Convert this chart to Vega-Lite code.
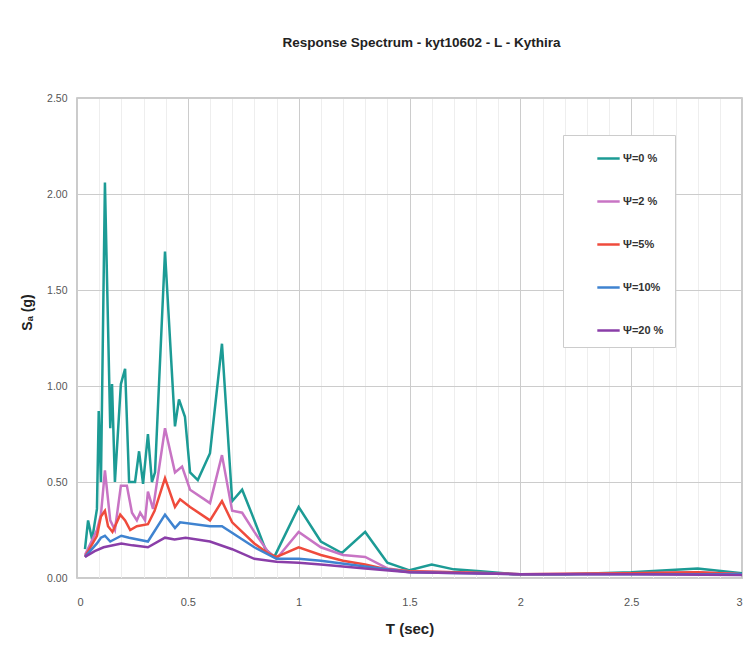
{
  "$schema": "https://vega.github.io/schema/vega-lite/v6.json",
  "width": 665,
  "height": 480,
  "autosize": "none",
  "padding": {"left": 77, "top": 98, "right": 3, "bottom": 75},
  "background": "white",
  "title": {
    "text": "Response Spectrum - kyt10602 - L -  Kythira",
    "font": "Liberation Sans",
    "fontSize": 13.5,
    "fontWeight": "bold",
    "color": "#222222",
    "anchor": "middle",
    "dx": 12,
    "offset": 44
  },
  "config": {
    "view": {"stroke": "#bbbbbb", "strokeWidth": 1.5},
    "font": "Liberation Sans"
  },
  "data": {
    "values": [
      {"T": 0.036, "Sa": 0.15, "s": "Ψ=0 %"},
      {"T": 0.05, "Sa": 0.30, "s": "Ψ=0 %"},
      {"T": 0.068, "Sa": 0.20, "s": "Ψ=0 %"},
      {"T": 0.09, "Sa": 0.36, "s": "Ψ=0 %"},
      {"T": 0.098, "Sa": 0.87, "s": "Ψ=0 %"},
      {"T": 0.108, "Sa": 0.50, "s": "Ψ=0 %"},
      {"T": 0.126, "Sa": 2.06, "s": "Ψ=0 %"},
      {"T": 0.150, "Sa": 0.78, "s": "Ψ=0 %"},
      {"T": 0.158, "Sa": 1.01, "s": "Ψ=0 %"},
      {"T": 0.171, "Sa": 0.50, "s": "Ψ=0 %"},
      {"T": 0.198, "Sa": 1.01, "s": "Ψ=0 %"},
      {"T": 0.217, "Sa": 1.09, "s": "Ψ=0 %"},
      {"T": 0.235, "Sa": 0.50, "s": "Ψ=0 %"},
      {"T": 0.262, "Sa": 0.50, "s": "Ψ=0 %"},
      {"T": 0.280, "Sa": 0.66, "s": "Ψ=0 %"},
      {"T": 0.298, "Sa": 0.49, "s": "Ψ=0 %"},
      {"T": 0.320, "Sa": 0.75, "s": "Ψ=0 %"},
      {"T": 0.338, "Sa": 0.50, "s": "Ψ=0 %"},
      {"T": 0.352, "Sa": 0.55, "s": "Ψ=0 %"},
      {"T": 0.397, "Sa": 1.70, "s": "Ψ=0 %"},
      {"T": 0.442, "Sa": 0.79, "s": "Ψ=0 %"},
      {"T": 0.460, "Sa": 0.93, "s": "Ψ=0 %"},
      {"T": 0.487, "Sa": 0.84, "s": "Ψ=0 %"},
      {"T": 0.510, "Sa": 0.55, "s": "Ψ=0 %"},
      {"T": 0.545, "Sa": 0.51, "s": "Ψ=0 %"},
      {"T": 0.600, "Sa": 0.65, "s": "Ψ=0 %"},
      {"T": 0.654, "Sa": 1.22, "s": "Ψ=0 %"},
      {"T": 0.700, "Sa": 0.40, "s": "Ψ=0 %"},
      {"T": 0.745, "Sa": 0.46, "s": "Ψ=0 %"},
      {"T": 0.790, "Sa": 0.33, "s": "Ψ=0 %"},
      {"T": 0.850, "Sa": 0.15, "s": "Ψ=0 %"},
      {"T": 0.890, "Sa": 0.11, "s": "Ψ=0 %"},
      {"T": 1.0, "Sa": 0.37, "s": "Ψ=0 %"},
      {"T": 1.10, "Sa": 0.19, "s": "Ψ=0 %"},
      {"T": 1.195, "Sa": 0.13, "s": "Ψ=0 %"},
      {"T": 1.30, "Sa": 0.24, "s": "Ψ=0 %"},
      {"T": 1.40, "Sa": 0.08, "s": "Ψ=0 %"},
      {"T": 1.50, "Sa": 0.04, "s": "Ψ=0 %"},
      {"T": 1.60, "Sa": 0.07, "s": "Ψ=0 %"},
      {"T": 1.70, "Sa": 0.045, "s": "Ψ=0 %"},
      {"T": 1.82, "Sa": 0.035, "s": "Ψ=0 %"},
      {"T": 1.97, "Sa": 0.02, "s": "Ψ=0 %"},
      {"T": 2.2, "Sa": 0.02, "s": "Ψ=0 %"},
      {"T": 2.5, "Sa": 0.03, "s": "Ψ=0 %"},
      {"T": 2.8, "Sa": 0.05, "s": "Ψ=0 %"},
      {"T": 3.0, "Sa": 0.025, "s": "Ψ=0 %"},

      {"T": 0.036, "Sa": 0.12, "s": "Ψ=2 %"},
      {"T": 0.09, "Sa": 0.25, "s": "Ψ=2 %"},
      {"T": 0.108, "Sa": 0.33, "s": "Ψ=2 %"},
      {"T": 0.126, "Sa": 0.56, "s": "Ψ=2 %"},
      {"T": 0.150, "Sa": 0.30, "s": "Ψ=2 %"},
      {"T": 0.171, "Sa": 0.25, "s": "Ψ=2 %"},
      {"T": 0.198, "Sa": 0.48, "s": "Ψ=2 %"},
      {"T": 0.225, "Sa": 0.48, "s": "Ψ=2 %"},
      {"T": 0.248, "Sa": 0.34, "s": "Ψ=2 %"},
      {"T": 0.270, "Sa": 0.30, "s": "Ψ=2 %"},
      {"T": 0.285, "Sa": 0.34, "s": "Ψ=2 %"},
      {"T": 0.307, "Sa": 0.30, "s": "Ψ=2 %"},
      {"T": 0.320, "Sa": 0.45, "s": "Ψ=2 %"},
      {"T": 0.343, "Sa": 0.36, "s": "Ψ=2 %"},
      {"T": 0.397, "Sa": 0.78, "s": "Ψ=2 %"},
      {"T": 0.442, "Sa": 0.55, "s": "Ψ=2 %"},
      {"T": 0.474, "Sa": 0.58, "s": "Ψ=2 %"},
      {"T": 0.510, "Sa": 0.46, "s": "Ψ=2 %"},
      {"T": 0.600, "Sa": 0.39, "s": "Ψ=2 %"},
      {"T": 0.654, "Sa": 0.64, "s": "Ψ=2 %"},
      {"T": 0.700, "Sa": 0.35, "s": "Ψ=2 %"},
      {"T": 0.745, "Sa": 0.34, "s": "Ψ=2 %"},
      {"T": 0.800, "Sa": 0.24, "s": "Ψ=2 %"},
      {"T": 0.860, "Sa": 0.14, "s": "Ψ=2 %"},
      {"T": 0.900, "Sa": 0.10, "s": "Ψ=2 %"},
      {"T": 1.0, "Sa": 0.24, "s": "Ψ=2 %"},
      {"T": 1.10, "Sa": 0.16, "s": "Ψ=2 %"},
      {"T": 1.20, "Sa": 0.12, "s": "Ψ=2 %"},
      {"T": 1.30, "Sa": 0.11, "s": "Ψ=2 %"},
      {"T": 1.40, "Sa": 0.05, "s": "Ψ=2 %"},
      {"T": 1.50, "Sa": 0.035, "s": "Ψ=2 %"},
      {"T": 1.70, "Sa": 0.03, "s": "Ψ=2 %"},
      {"T": 2.0, "Sa": 0.02, "s": "Ψ=2 %"},
      {"T": 2.5, "Sa": 0.025, "s": "Ψ=2 %"},
      {"T": 2.8, "Sa": 0.03, "s": "Ψ=2 %"},
      {"T": 3.0, "Sa": 0.02, "s": "Ψ=2 %"},

      {"T": 0.036, "Sa": 0.11, "s": "Ψ=5%"},
      {"T": 0.09, "Sa": 0.22, "s": "Ψ=5%"},
      {"T": 0.108, "Sa": 0.32, "s": "Ψ=5%"},
      {"T": 0.126, "Sa": 0.35, "s": "Ψ=5%"},
      {"T": 0.140, "Sa": 0.27, "s": "Ψ=5%"},
      {"T": 0.160, "Sa": 0.24, "s": "Ψ=5%"},
      {"T": 0.195, "Sa": 0.33, "s": "Ψ=5%"},
      {"T": 0.217, "Sa": 0.30, "s": "Ψ=5%"},
      {"T": 0.240, "Sa": 0.25, "s": "Ψ=5%"},
      {"T": 0.270, "Sa": 0.27, "s": "Ψ=5%"},
      {"T": 0.320, "Sa": 0.28, "s": "Ψ=5%"},
      {"T": 0.350, "Sa": 0.35, "s": "Ψ=5%"},
      {"T": 0.397, "Sa": 0.52, "s": "Ψ=5%"},
      {"T": 0.442, "Sa": 0.37, "s": "Ψ=5%"},
      {"T": 0.465, "Sa": 0.41, "s": "Ψ=5%"},
      {"T": 0.510, "Sa": 0.37, "s": "Ψ=5%"},
      {"T": 0.600, "Sa": 0.30, "s": "Ψ=5%"},
      {"T": 0.654, "Sa": 0.40, "s": "Ψ=5%"},
      {"T": 0.700, "Sa": 0.29, "s": "Ψ=5%"},
      {"T": 0.800, "Sa": 0.18, "s": "Ψ=5%"},
      {"T": 0.860, "Sa": 0.13, "s": "Ψ=5%"},
      {"T": 0.900, "Sa": 0.11, "s": "Ψ=5%"},
      {"T": 1.0, "Sa": 0.16, "s": "Ψ=5%"},
      {"T": 1.10, "Sa": 0.12, "s": "Ψ=5%"},
      {"T": 1.20, "Sa": 0.09, "s": "Ψ=5%"},
      {"T": 1.30, "Sa": 0.07, "s": "Ψ=5%"},
      {"T": 1.40, "Sa": 0.045, "s": "Ψ=5%"},
      {"T": 1.50, "Sa": 0.035, "s": "Ψ=5%"},
      {"T": 1.70, "Sa": 0.03, "s": "Ψ=5%"},
      {"T": 2.0, "Sa": 0.02, "s": "Ψ=5%"},
      {"T": 2.5, "Sa": 0.025, "s": "Ψ=5%"},
      {"T": 2.8, "Sa": 0.03, "s": "Ψ=5%"},
      {"T": 3.0, "Sa": 0.02, "s": "Ψ=5%"},

      {"T": 0.036, "Sa": 0.11, "s": "Ψ=10%"},
      {"T": 0.09, "Sa": 0.18, "s": "Ψ=10%"},
      {"T": 0.108, "Sa": 0.21, "s": "Ψ=10%"},
      {"T": 0.126, "Sa": 0.22, "s": "Ψ=10%"},
      {"T": 0.150, "Sa": 0.19, "s": "Ψ=10%"},
      {"T": 0.200, "Sa": 0.22, "s": "Ψ=10%"},
      {"T": 0.235, "Sa": 0.21, "s": "Ψ=10%"},
      {"T": 0.320, "Sa": 0.19, "s": "Ψ=10%"},
      {"T": 0.397, "Sa": 0.33, "s": "Ψ=10%"},
      {"T": 0.442, "Sa": 0.26, "s": "Ψ=10%"},
      {"T": 0.465, "Sa": 0.29, "s": "Ψ=10%"},
      {"T": 0.600, "Sa": 0.27, "s": "Ψ=10%"},
      {"T": 0.654, "Sa": 0.27, "s": "Ψ=10%"},
      {"T": 0.800, "Sa": 0.16, "s": "Ψ=10%"},
      {"T": 0.900, "Sa": 0.10, "s": "Ψ=10%"},
      {"T": 1.0, "Sa": 0.10, "s": "Ψ=10%"},
      {"T": 1.10, "Sa": 0.09, "s": "Ψ=10%"},
      {"T": 1.30, "Sa": 0.06, "s": "Ψ=10%"},
      {"T": 1.50, "Sa": 0.03, "s": "Ψ=10%"},
      {"T": 2.0, "Sa": 0.02, "s": "Ψ=10%"},
      {"T": 2.5, "Sa": 0.02, "s": "Ψ=10%"},
      {"T": 3.0, "Sa": 0.02, "s": "Ψ=10%"},

      {"T": 0.036, "Sa": 0.11, "s": "Ψ=20 %"},
      {"T": 0.08, "Sa": 0.14, "s": "Ψ=20 %"},
      {"T": 0.12, "Sa": 0.16, "s": "Ψ=20 %"},
      {"T": 0.20, "Sa": 0.18, "s": "Ψ=20 %"},
      {"T": 0.25, "Sa": 0.17, "s": "Ψ=20 %"},
      {"T": 0.32, "Sa": 0.16, "s": "Ψ=20 %"},
      {"T": 0.397, "Sa": 0.21, "s": "Ψ=20 %"},
      {"T": 0.44, "Sa": 0.20, "s": "Ψ=20 %"},
      {"T": 0.49, "Sa": 0.21, "s": "Ψ=20 %"},
      {"T": 0.60, "Sa": 0.19, "s": "Ψ=20 %"},
      {"T": 0.70, "Sa": 0.15, "s": "Ψ=20 %"},
      {"T": 0.80, "Sa": 0.10, "s": "Ψ=20 %"},
      {"T": 0.90, "Sa": 0.085, "s": "Ψ=20 %"},
      {"T": 1.0, "Sa": 0.08, "s": "Ψ=20 %"},
      {"T": 1.10, "Sa": 0.07, "s": "Ψ=20 %"},
      {"T": 1.30, "Sa": 0.05, "s": "Ψ=20 %"},
      {"T": 1.50, "Sa": 0.03, "s": "Ψ=20 %"},
      {"T": 2.0, "Sa": 0.02, "s": "Ψ=20 %"},
      {"T": 2.5, "Sa": 0.02, "s": "Ψ=20 %"},
      {"T": 3.0, "Sa": 0.015, "s": "Ψ=20 %"}
    ]
  },
  "mark": {"type": "line", "strokeWidth": 2.5, "clip": true},
  "encoding": {
    "x": {
      "field": "T",
      "type": "quantitative",
      "scale": {"domain": [0, 3], "nice": false},
      "axis": {
        "values": [0, 0.1, 0.2, 0.3, 0.4, 0.5, 0.6, 0.7, 0.8, 0.9, 1, 1.1, 1.2, 1.3, 1.4, 1.5, 1.6, 1.7, 1.8, 1.9, 2, 2.1, 2.2, 2.3, 2.4, 2.5, 2.6, 2.7, 2.8, 2.9, 3],
        "labelExpr": "abs(datum.value*2 - round(datum.value*2)) < 0.001 ? format(datum.value, '~g') : ''",
        "gridColor": {"condition": {"test": "abs(datum.value*2 - round(datum.value*2)) < 0.001", "value": "#cccccc"}, "value": "#eeeeee"},
        "ticks": false,
        "domain": false,
        "labelPadding": 18,
        "labelFontSize": 11,
        "labelColor": "#555555",
        "labelFont": "Liberation Sans",
        "title": "T (sec)",
        "titleFont": "Liberation Sans",
        "titleFontSize": 15,
        "titleFontWeight": "bold",
        "titleColor": "#222222",
        "titlePadding": 14
      }
    },
    "y": {
      "field": "Sa",
      "type": "quantitative",
      "scale": {"domain": [0, 2.5], "nice": false},
      "axis": {
        "values": [0, 0.5, 1, 1.5, 2, 2.5],
        "format": ".2f",
        "gridColor": "#cccccc",
        "ticks": false,
        "domain": false,
        "labelPadding": 10,
        "labelFontSize": 10.5,
        "labelColor": "#555555",
        "labelFont": "Liberation Sans",
        "title": "Sₐ  (g)",
        "titleFont": "Liberation Sans",
        "titleFontSize": 14,
        "titleFontWeight": "bold",
        "titleColor": "#222222",
        "titleAngle": 270,
        "titleBaseline": "middle",
        "titleAlign": "center",
        "titleX": -50,
        "titleY": 214
      }
    },
    "color": {
      "field": "s",
      "type": "nominal",
      "sort": null,
      "scale": {
        "domain": ["Ψ=0 %", "Ψ=2 %", "Ψ=5%", "Ψ=10%", "Ψ=20 %"],
        "range": ["#1c9b95", "#c874c4", "#ef4b3c", "#3f83d0", "#8a3ea8"]
      },
      "legend": {
        "orient": "none",
        "legendX": 486,
        "legendY": 37,
        "title": null,
        "symbolType": "stroke",
        "symbolSize": 500,
        "symbolStrokeWidth": 2.5,
        "symbolOffset": 22,
        "labelFont": "Liberation Sans",
        "labelFontSize": 11,
        "labelFontWeight": "bold",
        "labelColor": "#333333",
        "labelOffset": 2,
        "rowPadding": 25,
        "padding": 11,
        "strokeColor": "#cccccc",
        "fillColor": "white"
      }
    }
  }
}
